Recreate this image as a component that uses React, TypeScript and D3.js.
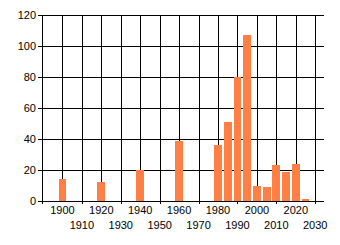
import React from "react";
import * as d3 from "d3";

const years = [1900, 1920, 1940, 1960, 1980, 1985, 1990, 1995, 2000, 2005, 2010, 2015, 2020, 2025];
const counts = [14, 12, 20, 39, 36, 51, 80, 107, 10, 9, 23, 19, 24, 1];
const xTicks = [1900, 1910, 1920, 1930, 1940, 1950, 1960, 1970, 1980, 1990, 2000, 2010, 2020, 2030];
const yTicks = [0, 20, 40, 60, 80, 100, 120];

const W = 340;
const H = 245;
const left = 42;
const right = 324;
const top = 15;
const bottom = 201;

export default function App() {
  const x = d3.scaleLinear().domain([1889.5, 2034.5]).range([left, right]);
  const y = d3.scaleLinear().domain([0, 120]).range([bottom, top]);
  const px = (v: number) => Math.round(v) + 0.5;
  const font = "'Liberation Sans', Arial, sans-serif";
  const barColor = "#FF7F45";

  return (
    <svg width={W} height={H} style={{ position: "absolute", left: 0, top: 0 }} shapeRendering="crispEdges">
      <rect x={0} y={0} width={W} height={H} fill="#fff" />
      {/* horizontal gridlines + y ticks */}
      {yTicks.map((t) => (
        <line key={"h" + t} x1={left - 4} x2={right} y1={px(y(t))} y2={px(y(t))} stroke="#000" />
      ))}
      {/* vertical gridlines */}
      {xTicks.map((t) => {
        const isOdd = (t / 10) % 2 === 1;
        return (
          <line key={"v" + t} x1={px(x(t))} x2={px(x(t))} y1={top} y2={isOdd ? bottom + 3 : bottom} stroke="#000" />
        );
      })}
      {/* y axis */}
      <line x1={px(left)} x2={px(left)} y1={top} y2={bottom + 3} stroke="#000" />
      {/* bars */}
      {years.map((yr, i) => {
        const x0 = Math.round(x(yr - 2));
        const x1 = Math.round(x(yr + 2));
        const y0 = Math.round(y(counts[i]));
        return (
          <rect key={"b" + yr} x={x0} y={y0} width={x1 - x0} height={bottom + 1 - y0} fill={barColor} />
        );
      })}
      {/* x axis line on top */}
      <line x1={left} x2={right} y1={px(bottom)} y2={px(bottom)} stroke="#000" />
      {/* y labels */}
      {yTicks.map((t) => (
        <text key={"yl" + t} x={36} y={y(t) + 4} textAnchor="end" fontFamily={font} fontSize={11} fill="#000">
          {t}
        </text>
      ))}
      {/* x labels, staggered */}
      {xTicks.map((t) => {
        const isOdd = (t / 10) % 2 === 1;
        return (
          <text
            key={"xl" + t}
            x={x(t)}
            y={isOdd ? 229 : 214}
            textAnchor="middle"
            fontFamily={font}
            fontSize={11}
            fill="#000"
          >
            {t}
          </text>
        );
      })}
    </svg>
  );
}
